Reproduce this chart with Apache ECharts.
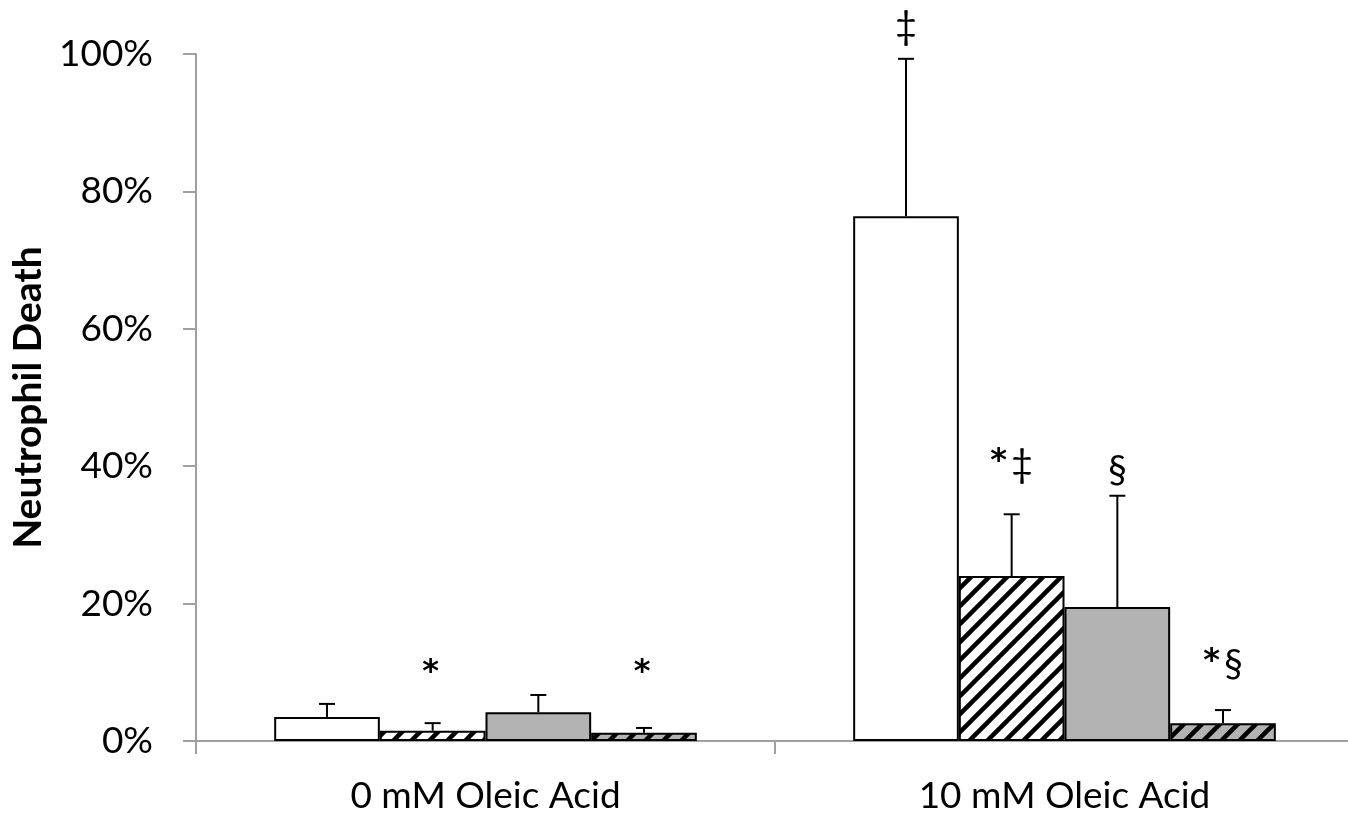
<!DOCTYPE html>
<html>
<head>
<meta charset="utf-8">
<script src="https://cdn.jsdelivr.net/npm/echarts@6/dist/echarts.min.js"></script>
<style>
  html, body { margin: 0; padding: 0; background: #fff; }
  #chart { width: 1348px; height: 816px; }
</style>
</head>
<body>
<div id="chart"></div>
<script>
"use strict";

const categories = ['0 mM Oleic Acid', '10 mM Oleic Acid'];
const yTicks = [0, 20, 40, 60, 80, 100];

// mean values (%) per bar type, one entry per category
const whiteVals = [3.5, 76.4];
const hatchVals = [1.5, 24.0];
const grayVals = [4.2, 19.5];
const grayHatchVals = [1.2, 2.6];

// top of error bar (%)
const whiteErr = [5.4, 99.3];
const hatchErr = [2.6, 33.0];
const grayErr = [6.7, 35.7];
const grayHatchErr = [1.9, 4.5];

// significance marks: [category, bar index, y (%), text]
const marks = [
    [0, 1, 10.0, '*'],
    [0, 3, 10.0, '*'],
    [1, 0, 103.9, '‡'],
    [1, 1, 40.2, '*‡'],
    [1, 2, 39.4, '§'],
    [1, 3, 11.1, '*§']
];

const FONT = 'Lato';
const GAP = 0.27;

function stripes(bg) {
    const c = document.createElement('canvas');
    c.width = 18; c.height = 18;
    const ctx = c.getContext('2d');
    ctx.fillStyle = bg;
    ctx.fillRect(0, 0, 18, 18);
    ctx.strokeStyle = '#000';
    ctx.lineWidth = 4.5;
    for (const k of [0, 18, 36]) {
        ctx.beginPath();
        ctx.moveTo(k + 2, -2);
        ctx.lineTo(-2, k + 2);
        ctx.stroke();
    }
    return c;
}

const barSeries = [
    [whiteVals, '#ffffff'],
    [hatchVals, { image: stripes('#ffffff'), repeat: 'repeat' }],
    [grayVals, '#b3b3b3'],
    [grayHatchVals, { image: stripes('#b3b3b3'), repeat: 'repeat' }]
].map(([vals, color]) => ({
    type: 'bar',
    data: vals,
    barGap: '0%',
    barCategoryGap: (GAP * 100) + '%',
    itemStyle: { color: color, borderColor: '#000', borderWidth: 2 },
    z: 2
}));

const errData = [];
[whiteErr, hatchErr, grayErr, grayHatchErr].forEach((errs, i) => {
    const vals = [whiteVals, hatchVals, grayVals, grayHatchVals][i];
    errs.forEach((e, c) => errData.push([c, i, vals[c], e]));
});

function barX(api, cat, idx) {
    const catW = api.size([1, 0])[0];
    const barW = catW * (1 - GAP) / 4;
    const base = api.coord([cat, 0]);
    return base[0] + (idx - 1.5) * barW;
}

function richMark(s) {
    return s.split('').map(ch => ch === '*' ? '{s|*}' : '{t|' + ch + '}').join('');
}

const chart = echarts.init(document.getElementById('chart'));
chart.setOption({
    animation: false,
    grid: { left: 196, width: 1158, top: 54, bottom: 75, outerBoundsMode: 'none', containLabel: false },
    xAxis: {
        type: 'category',
        data: categories,
        axisLine: { lineStyle: { color: '#a0a0a0', width: 2 } },
        axisTick: { show: true, length: 13, lineStyle: { color: '#a0a0a0', width: 2 } },
        axisLabel: { color: '#000', fontFamily: FONT, fontSize: 37, margin: 37 }
    },
    yAxis: {
        type: 'value',
        min: yTicks[0],
        max: yTicks[yTicks.length - 1],
        interval: 20,
        name: 'Neutrophil Death',
        nameLocation: 'middle',
        nameGap: 146,
        nameTextStyle: { color: '#000', fontFamily: FONT, fontSize: 39, fontWeight: 'bold' },
        axisLine: { show: true, lineStyle: { color: '#a0a0a0', width: 2 } },
        axisTick: { show: true, length: 13, lineStyle: { color: '#a0a0a0', width: 2 } },
        splitLine: { show: false },
        axisLabel: { color: '#000', fontFamily: FONT, fontSize: 37, margin: 43, formatter: '{value}%' }
    },
    series: barSeries.concat([
        {
            type: 'custom',
            data: errData,
            z: 3,
            renderItem: (params, api) => {
                const x = barX(api, api.value(0), api.value(1));
                const y0 = api.coord([api.value(0), api.value(2)])[1];
                const y1 = api.coord([api.value(0), api.value(3)])[1];
                const style = { stroke: '#000', lineWidth: 2 };
                return {
                    type: 'group',
                    children: [
                        { type: 'line', shape: { x1: x, y1: y0, x2: x, y2: y1 }, style },
                        { type: 'line', shape: { x1: x - 8, y1: y1, x2: x + 8, y2: y1 }, style }
                    ]
                };
            }
        },
        {
            type: 'custom',
            data: marks,
            z: 4,
            renderItem: (params, api) => {
                const x = barX(api, api.value(0), api.value(1));
                const y = api.coord([api.value(0), api.value(2)])[1];
                return {
                    type: 'text',
                    x: x,
                    y: y,
                    style: {
                        text: richMark(marks[params.dataIndex][3]),
                        fill: '#000',
                        align: 'center',
                        verticalAlign: 'middle',
                        rich: {
                            s: { fontFamily: 'DejaVu Sans', fontSize: 32, fontWeight: 'bold', verticalAlign: 'top', padding: [0, 4, 0, 0] },
                            t: { fontFamily: FONT, fontSize: 38 }
                        }
                    }
                };
            }
        }
    ])
});
</script>
</body>
</html>
